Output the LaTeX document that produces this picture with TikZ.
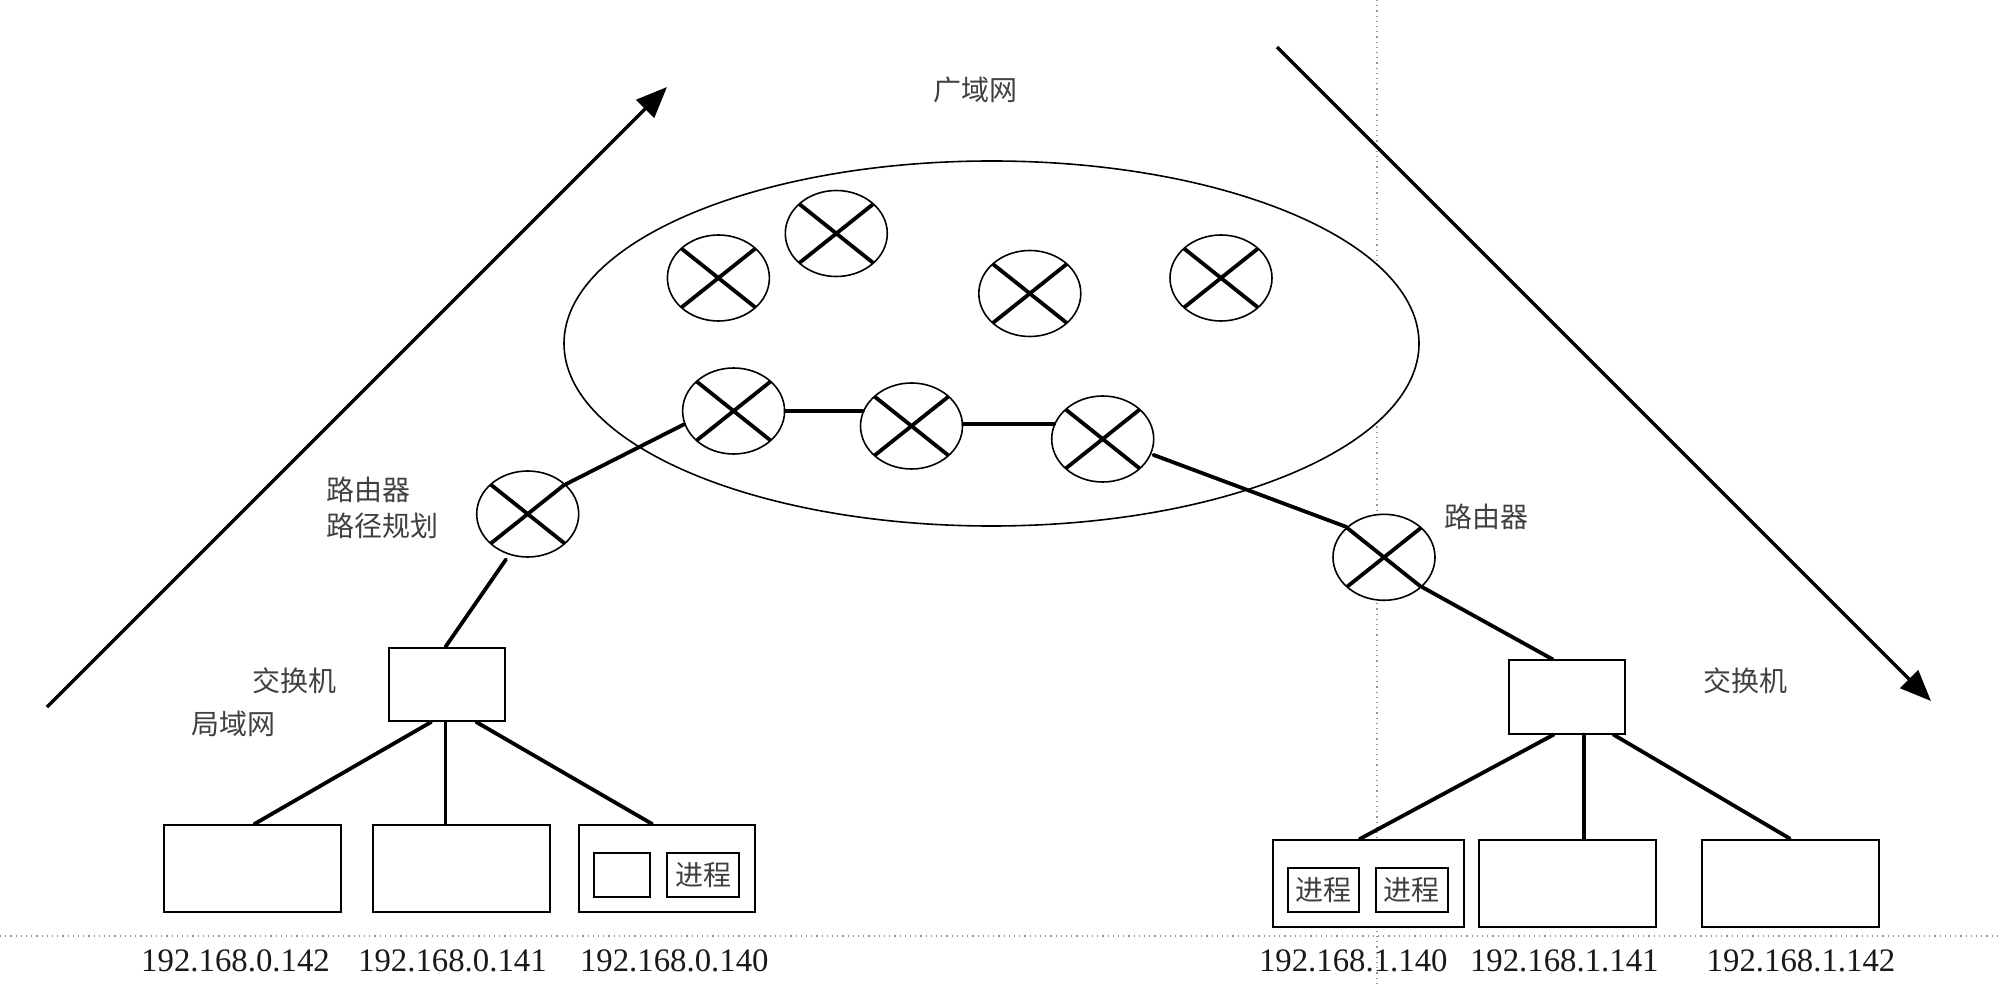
\documentclass[tikz,border=0pt]{standalone}
\usepackage{fontspec}
\setmainfont{Liberation Serif}
\newfontfamily\cjk{Noto Sans CJK SC}
\usetikzlibrary{shapes.geometric,arrows.meta,calc}
\tikzset{
  heavy/.style={line width=1.9pt,black,line cap=round},
  bigarrow/.style={line width=1.7pt,black,-{Triangle[length=15.5pt,width=12.5pt]}},
  guide/.style={line width=0.6pt,gray!85,dotted},
  cloud/.style={ellipse,draw=black,fill=white,line width=0.8pt,inner sep=0pt,minimum width=427.5pt,minimum height=182.5pt},
  router/.style={ellipse,draw=black,fill=white,line width=0.8pt,inner sep=0pt,minimum width=51pt,minimum height=43pt,
    path picture={
      \draw[line width=1.9pt] ($(path picture bounding box.center)+(-18.5pt,-14.75pt)$) -- ($(path picture bounding box.center)+(18.5pt,14.75pt)$);
      \draw[line width=1.9pt] ($(path picture bounding box.center)+(-18.5pt,14.75pt)$) -- ($(path picture bounding box.center)+(18.5pt,-14.75pt)$);
    }},
  boxnode/.style={rectangle,draw=black,fill=white,line width=1pt,inner sep=0pt,minimum width=#1,minimum height=43.6pt},
  switchbox/.style={rectangle,draw=black,fill=white,line width=1pt,inner sep=0pt,minimum width=58pt,minimum height=36.6pt},
  procbox/.style={rectangle,draw=black,fill=white,line width=1pt,inner sep=0pt,minimum width=#1,minimum height=22pt,font=\cjk\fontsize{14}{14}\selectfont,text=black!75},
  zh/.style={inner sep=0pt,font=\cjk\fontsize{14}{18}\selectfont,text=black!75},
  ip/.style={inner sep=0pt,font=\fontsize{16.4}{16.4}\selectfont,text=black!90},
}
\begin{document}
\begin{tikzpicture}[x=0.5pt,y=-0.5pt]
\useasboundingbox (0,0) rectangle (2001,988);
\coordinate (vt) at (1377,0);
\coordinate (vb) at (1377,988);
\coordinate (hl) at (0,936);
\coordinate (hr) at (2001,936);
\draw[guide] (vt) -- (vb);
\draw[guide] (hl) -- (hr);

\node[cloud] (wan) at (991.5,343.5) {};

\coordinate (a1s) at (47,707);
\coordinate (a1e) at (667,87);
\coordinate (a2s) at (1277,47);
\coordinate (a2e) at (1931,701);
\draw[bigarrow] (a1s) -- (a1e);
\draw[bigarrow] (a2s) -- (a2e);

\node[router] (r1) at (718.4,278) {};
\node[router] (r2) at (836.3,233.5) {};
\node[router] (r3) at (1029.8,293.5) {};
\node[router] (r4) at (1221,278) {};
\node[router] (r5) at (733.6,411) {};
\node[router] (r6) at (911.5,426) {};
\node[router] (r7) at (1102.7,439) {};
\node[router] (r8) at (527.7,514) {};
\node[router] (r9) at (1384,557.3) {};

\node[switchbox] (swl) at (446.5,684.4) {};
\node[switchbox] (swr) at (1567.4,697) {};

\node[boxnode=88.8pt] (pl1) at (252.6,868.6) {};
\node[boxnode=88.4pt] (pl2) at (461.2,868.4) {};
\node[boxnode=88.2pt] (pl3) at (667.2,868.6) {};
\node[boxnode=95.4pt] (pr1) at (1368.4,883.6) {};
\node[boxnode=88.4pt] (pr2) at (1567.2,883.2) {};
\node[boxnode=88.4pt] (pr3) at (1790.4,883.2) {};

\node[procbox=28.3pt] (il1) at (622.1,875.2) {};
\node[procbox=35.7pt] (il2) at (703.1,875.2) {进程};
\node[procbox=35.9pt] (ir1) at (1323.5,890) {进程};
\node[procbox=35.9pt] (ir2) at (1411.9,890) {进程};

\coordinate (swlv) at ($(swl.south)+(-0.5pt,0)$);
\coordinate (swrv) at ($(swr.south west)!0.64!(swr.south east)$);

\draw[heavy] ($(swl.north)+(-0.5pt,0)$) -- ($(r8.-116)+(-1pt,-2.5pt)$);
\draw[heavy] (r8.38.6) -- (r5.195.4);
\draw[heavy] (r5.east) -- (r5.east -| r6.163);
\draw[heavy] (r7.163) -- (r7.163 -| r6.east);
\draw[heavy] ($(r7.-17.5)+(1pt,-0.5pt)$) -- (r9.141.4);
\draw[heavy] (r9.-38.6) -- ($(swr.north west)!0.376!(swr.north east)$);

\draw[heavy] ($(swl.south west)!0.37!(swl.south east)$) -- ($(pl1.north west)!0.51!(pl1.north east)$);
\draw[heavy] (swlv) -- (swlv |- pl2.north);
\draw[heavy] ($(swl.south west)!0.752!(swl.south east)$) -- ($(pl3.north west)!0.416!(pl3.north east)$);
\draw[heavy] ($(swr.south west)!0.384!(swr.south east)$) -- ($(pr1.north west)!0.455!(pr1.north east)$);
\draw[heavy] (swrv) -- (swrv |- pr2.north);
\draw[heavy] ($(swr.south west)!0.89!(swr.south east)$) -- ($(pr3.north west)!0.497!(pr3.north east)$);

\node[zh] (t1) at (975,90) {广域网};
\node[zh,anchor=west,align=left] (t2) at (326,508) {路由器\\路径规划};
\node[zh] (t3) at (1486,517) {路由器};
\node[zh] (t4) at (294,680.7) {交换机};
\node[zh] (t5) at (233,723.7) {局域网};
\node[zh] (t6) at (1745.6,680.7) {交换机};

\node[ip] (ip1) at (235.5,960.7) {192.168.0.142};
\node[ip] (ip2) at (452.4,960.7) {192.168.0.141};
\node[ip] (ip3) at (674.3,960.7) {192.168.0.140};
\node[ip] (ip4) at (1353.3,960.7) {192.168.1.140};
\node[ip] (ip5) at (1564.3,960.7) {192.168.1.141};
\node[ip] (ip6) at (1801,960.7) {192.168.1.142};
\end{tikzpicture}
\end{document}
